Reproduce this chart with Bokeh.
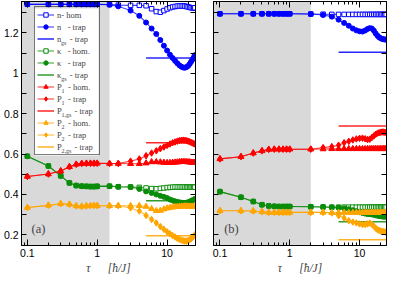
import math
from bokeh.plotting import figure
from bokeh.layouts import row
from bokeh.models import (Range1d, FixedTicker, LinearAxis, LogAxis, BoxAnnotation,
                          Legend, LegendItem, Label, CustomJSTickFormatter)
from bokeh.embed import file_html
from bokeh.resources import INLINE

# ---------------- data: panel (a) ----------------
t_a = [0.1, 0.2, 0.3, 0.4, 0.5, 0.6, 0.7, 0.8, 0.9, 1.0, 1.5, 2, 3, 4, 5, 6, 7, 8, 9, 10,
       11, 12, 13, 14, 15, 16, 17, 18, 19, 20, 21, 22, 23, 24, 25]
n_hom_a = [1.342, 1.342, 1.342, 1.342, 1.342, 1.342, 1.342, 1.342, 1.342, 1.342, 1.341, 1.338,
           1.337, 1.337, 1.335, 1.320, 1.306, 1.303, 1.311, 1.319, 1.325, 1.329, 1.331, 1.333,
           1.334, 1.334, 1.334, 1.333, 1.331, 1.329, 1.327, 1.325, 1.324, 1.324, 1.325]
n_trap_a = [1.342, 1.342, 1.342, 1.342, 1.342, 1.342, 1.342, 1.342, 1.342, 1.342, 1.340, 1.332,
            1.311, 1.285, 1.252, 1.222, 1.195, 1.165, 1.137, 1.113, 1.092, 1.076, 1.062, 1.050,
            1.040, 1.033, 1.029, 1.028, 1.031, 1.037, 1.046, 1.057, 1.068, 1.079, 1.090]
kap_hom_a = [0.589, 0.541, 0.492, 0.457, 0.444, 0.441, 0.440, 0.439, 0.439, 0.440, 0.441, 0.438,
             0.437, 0.435, 0.432, 0.429, 0.428, 0.430, 0.432, 0.434, 0.435, 0.436, 0.437, 0.437,
             0.437, 0.437, 0.437, 0.437, 0.436, 0.436, 0.436, 0.436, 0.436, 0.436, 0.436]
kap_trap_a = [0.589, 0.541, 0.492, 0.457, 0.444, 0.441, 0.440, 0.439, 0.439, 0.440, 0.441, 0.438,
              0.437, 0.427, 0.415, 0.407, 0.400, 0.393, 0.388, 0.382, 0.375, 0.370, 0.366, 0.363,
              0.361, 0.359, 0.358, 0.358, 0.359, 0.361, 0.364, 0.367, 0.371, 0.374, 0.378]
p1_hom_a = [0.489, 0.501, 0.516, 0.537, 0.549, 0.553, 0.554, 0.554, 0.554, 0.554, 0.553, 0.553,
            0.552, 0.552, 0.555, 0.561, 0.561, 0.560, 0.558, 0.557, 0.557, 0.558, 0.559, 0.560,
            0.561, 0.562, 0.562, 0.562, 0.561, 0.561, 0.560, 0.559, 0.558, 0.558, 0.558]
p1_trap_a = [0.489, 0.501, 0.516, 0.537, 0.549, 0.553, 0.554, 0.554, 0.554, 0.554, 0.553, 0.553,
             0.565, 0.576, 0.592, 0.605, 0.616, 0.627, 0.635, 0.643, 0.650, 0.656, 0.660, 0.664,
             0.667, 0.668, 0.669, 0.668, 0.666, 0.664, 0.661, 0.658, 0.655, 0.652, 0.650]
p2_hom_a = [0.335, 0.346, 0.354, 0.351, 0.343, 0.341, 0.343, 0.344, 0.345, 0.344, 0.344, 0.344,
            0.344, 0.344, 0.340, 0.329, 0.319, 0.320, 0.327, 0.332, 0.335, 0.337, 0.338, 0.339,
            0.340, 0.341, 0.341, 0.342, 0.342, 0.341, 0.341, 0.340, 0.340, 0.340, 0.339]
p2_trap_a = [0.335, 0.346, 0.354, 0.351, 0.343, 0.341, 0.343, 0.344, 0.345, 0.344, 0.344, 0.344,
             0.333, 0.318, 0.296, 0.276, 0.259, 0.241, 0.227, 0.215, 0.205, 0.196, 0.189, 0.183,
             0.178, 0.174, 0.171, 0.169, 0.169, 0.171, 0.175, 0.180, 0.186, 0.193, 0.200]
gs_t_a = [5, 25]
n_gs_a = [1.076, 1.076]
kap_gs_a = [0.369, 0.369]
p1_gs_a = [0.656, 0.656]
p2_gs_a = [0.195, 0.195]
ramp_a = 1.5

# ---------------- data: panel (b) ----------------
t_b = [0.1, 0.2, 0.3, 0.4, 0.5, 0.6, 0.7, 0.8, 0.9, 1.0, 2, 3, 4, 5, 6, 7, 8, 9, 10,
       11, 12, 13, 14, 15, 16, 17, 18, 19, 20, 21, 22, 23, 24]
n_hom_b = [1.295, 1.295, 1.295, 1.295, 1.295, 1.295, 1.295, 1.295, 1.295, 1.295, 1.294, 1.293,
           1.292, 1.292, 1.292, 1.292, 1.292, 1.292, 1.292, 1.292, 1.292, 1.292, 1.292, 1.292,
           1.292, 1.292, 1.292, 1.292, 1.292, 1.292, 1.292, 1.292, 1.292]
n_trap_b = [1.295, 1.295, 1.295, 1.295, 1.295, 1.295, 1.295, 1.295, 1.295, 1.295, 1.294, 1.289,
            1.281, 1.266, 1.250, 1.236, 1.222, 1.213, 1.208, 1.207, 1.212, 1.220, 1.224, 1.222,
            1.212, 1.198, 1.187, 1.179, 1.174, 1.171, 1.169, 1.168, 1.167]
kap_hom_b = [0.414, 0.386, 0.365, 0.349, 0.343, 0.341, 0.340, 0.340, 0.340, 0.340, 0.339, 0.338,
             0.337, 0.337, 0.337, 0.337, 0.337, 0.337, 0.337, 0.337, 0.337, 0.337, 0.337, 0.337,
             0.337, 0.337, 0.337, 0.337, 0.337, 0.337, 0.337, 0.337, 0.337]
kap_trap_b = [0.414, 0.386, 0.365, 0.349, 0.343, 0.341, 0.340, 0.340, 0.340, 0.340, 0.339, 0.338,
              0.336, 0.334, 0.331, 0.327, 0.322, 0.317, 0.312, 0.308, 0.305, 0.303, 0.302, 0.301,
              0.299, 0.297, 0.295, 0.293, 0.292, 0.291, 0.290, 0.290, 0.290]
p1_hom_b = [0.576, 0.587, 0.605, 0.616, 0.623, 0.624, 0.624, 0.624, 0.624, 0.624, 0.624, 0.625,
            0.626, 0.626, 0.626, 0.626, 0.626, 0.626, 0.626, 0.626, 0.626, 0.626, 0.626, 0.626,
            0.626, 0.626, 0.626, 0.626, 0.626, 0.626, 0.626, 0.626, 0.626]
p1_trap_b = [0.576, 0.587, 0.605, 0.616, 0.623, 0.624, 0.624, 0.624, 0.624, 0.624, 0.624, 0.632,
             0.637, 0.644, 0.656, 0.663, 0.670, 0.675, 0.678, 0.679, 0.676, 0.672, 0.674, 0.682,
             0.690, 0.698, 0.703, 0.706, 0.708, 0.709, 0.709, 0.708, 0.707]
p2_hom_b = [0.319, 0.319, 0.318, 0.314, 0.311, 0.311, 0.311, 0.311, 0.311, 0.311, 0.311, 0.311,
            0.310, 0.310, 0.310, 0.310, 0.310, 0.310, 0.310, 0.310, 0.310, 0.310, 0.310, 0.310,
            0.310, 0.310, 0.310, 0.310, 0.310, 0.310, 0.310, 0.310, 0.310]
p2_trap_b = [0.319, 0.319, 0.318, 0.314, 0.311, 0.311, 0.311, 0.311, 0.311, 0.311, 0.311, 0.311,
             0.308, 0.295, 0.283, 0.270, 0.263, 0.259, 0.254, 0.251, 0.251, 0.254, 0.258, 0.252,
             0.243, 0.233, 0.226, 0.222, 0.219, 0.217, 0.215, 0.214, 0.213]
gs_t_b = [5, 24]
n_gs_b = [1.105, 1.105]
kap_gs_b = [0.265, 0.265]
p1_gs_b = [0.739, 0.739]
p2_gs_b = [0.176, 0.176]
ramp_b = 2.0

# ---------------- ticks / labels ----------------
x_ticks = [0.1, 1, 10]
x_minor = [0.09, 0.2, 0.3, 0.4, 0.5, 0.6, 0.7, 0.8, 0.9, 2, 3, 4, 5, 6, 7, 8, 9, 20]
y_ticks = [0.2, 0.4, 0.6, 0.8, 1.0, 1.2]
y_minor = [0.3, 0.5, 0.7, 0.9, 1.1, 1.3]
x_label = "\u03c4\u2003\u2002[\u0127/J]"

EN = "\u2002"
# (legend text, subscript, symbol width in px)
legend_rows = [("n- hom", "", 4.3),
               ("n" + EN + " - trap", "", 4.3),
               ("n" + EN + EN + "- trap", "gs", 4.3),
               ("\u03ba" + EN + " - hom.", "", 4.5),
               ("\u03ba" + EN + " - trap", "", 4.5),
               ("\u03ba" + EN + EN + "- trap", "gs", 4.5),
               ("P" + EN + " - hom.", "1", 4.8),
               ("P" + EN + " - trap", "1", 4.8),
               ("P" + EN + EN + EN + "- trap", "1,gs", 4.8),
               ("P" + EN + " - hom.", "2", 4.8),
               ("P" + EN + " - trap", "2", 4.8),
               ("P" + EN + EN + EN + "- trap", "2,gs", 4.8)]

BLUE, GREEN, RED, ORANGE = "#0000ff", "#0a8c0a", "#ff0000", "#ffa500"
SERIF, SANS = "Liberation Serif", "Liberation Sans"
FH = 244
Y0, Y1 = 0.147, 1.356


def style_axis(ax, show, major_in, minor_in):
    ax.axis_line_color = "black"
    ax.major_tick_in = major_in
    ax.major_tick_out = 0
    ax.minor_tick_in = minor_in
    ax.minor_tick_out = 0
    ax.major_tick_line_color = "black"
    ax.minor_tick_line_color = "black"
    ax.major_label_text_font = SANS
    ax.major_label_text_color = "black"
    if show:
        ax.formatter = CustomJSTickFormatter(code="return String(Math.round(tick*100)/100)")
        ax.major_label_text_font_size = "10.5px"
        ax.major_label_standoff = 3
    else:
        ax.formatter = CustomJSTickFormatter(code="return ''")
        ax.major_label_text_font_size = "1px"
        ax.major_label_standoff = 0


def make_panel(t, series, gs_t, gs_series, x0, x_end, ramp, tag, first, fw):
    p = figure(x_axis_type="log", x_range=Range1d(x0, x_end), y_range=Range1d(Y0, Y1),
               frame_width=fw, frame_height=FH, output_backend="svg", toolbar_location=None,
               min_border_left=20 if first else 17, min_border_right=1 if first else 2,
               min_border_top=1, min_border_bottom=0)
    p.xgrid.visible = False
    p.ygrid.visible = False
    p.outline_line_color = "black"
    p.background_fill_color = "white"
    p.border_fill_color = "white"

    xt = FixedTicker(ticks=x_ticks, minor_ticks=x_minor)
    yt = FixedTicker(ticks=y_ticks, minor_ticks=y_minor)
    bx = p.xaxis[0]
    bx.ticker = xt
    style_axis(bx, True, 6, 3)
    bx.axis_label = x_label
    bx.axis_label_text_font = SERIF
    bx.axis_label_text_font_style = "italic"
    bx.axis_label_text_font_size = "11.5px"
    bx.axis_label_standoff = 2
    ly = p.yaxis[0]
    ly.ticker = yt
    style_axis(ly, first, 5, 5)
    top = LogAxis(ticker=xt)
    style_axis(top, False, 6, 3)
    p.add_layout(top, "above")
    ra = LinearAxis(ticker=yt)
    style_axis(ra, False, 5, 5)
    p.add_layout(ra, "right")

    p.add_layout(BoxAnnotation(right=ramp, fill_color="#d9d9d9", fill_alpha=1.0,
                               line_color=None, level="underlay"))

    items = []
    specs = [(series[0], BLUE, "square", 4.5, False), (series[1], BLUE, "circle", 5, True),
             (series[2], GREEN, "square", 4.5, False), (series[3], GREEN, "circle", 5, True),
             (series[4], RED, "triangle", 6, True), (series[5], RED, "diamond", 6.5, True),
             (series[6], ORANGE, "triangle", 6, True), (series[7], ORANGE, "diamond", 6.5, True)]
    gs_colors = [BLUE, GREEN, RED, ORANGE]
    for k in range(4):
        for j in range(2):
            vals, col, mk, sz, filled = specs[2 * k + j]
            lr = p.line(t, vals, line_color=col, line_width=1.1, line_alpha=0.75)
            sr = p.scatter(t, vals, marker=mk, size=sz, line_color=col, line_width=1,
                           fill_color=col if filled else "white")
            items.append([lr, sr])
        gr = p.line(gs_t, gs_series[k], line_color=gs_colors[k], line_width=1.5, line_alpha=0.85)
        items.append([gr])

    if first:
        pad, ih, sp, lx, top_off, gw, ls, lw = 2, 11, 1, 13, 7, 17, 3, 40
        n = len(items)
        leg_h = 2 * pad + n * ih + (n - 1) * sp
        leg_w = 2 * pad + gw + ls + lw
        # pixel -> data conversion for the legend backdrop and subscripts
        px_per_dec = fw / math.log10(x_end / x0)
        y_per_px = (Y1 - Y0) / FH
        px2x = lambda px: x0 * 10 ** (px / px_per_dec)
        px2y = lambda py: Y1 - py * y_per_px
        # white backdrop drawn under the (transparent) legend so subscripts stay visible
        p.add_layout(BoxAnnotation(left=px2x(lx), right=px2x(lx + leg_w), top=px2y(top_off),
                                   bottom=px2y(top_off + leg_h), fill_color="white",
                                   fill_alpha=1.0, line_color=None, level="underlay"))
        leg_items = [LegendItem(label=legend_rows[i][0], renderers=items[i]) for i in range(n)]
        leg = Legend(items=leg_items, location=(lx, FH - top_off - leg_h), padding=pad, spacing=sp,
                     glyph_width=gw, glyph_height=ih, label_height=ih, label_width=lw,
                     label_standoff=ls, label_text_font=SERIF, label_text_font_size="8.5px",
                     label_text_baseline="middle", margin=0,
                     border_line_color="black", border_line_width=1,
                     background_fill_alpha=0.0)
        p.add_layout(leg)
        x_text = lx + pad + gw + ls
        for i, (txt, sub, sw) in enumerate(legend_rows):
            if not sub:
                continue
            dy = top_off + pad + i * (ih + sp) + ih / 2 + 3
            p.add_layout(Label(x=px2x(x_text + sw + 0.3), y=px2y(dy), text=sub, text_font=SERIF,
                               text_font_size="6px", text_baseline="middle"))

    p.add_layout(Label(x=0.115, y=0.228, text=tag, text_font=SERIF, text_font_size="12.5px",
                       text_baseline="middle"))
    return p


pa = make_panel(t_a, [n_hom_a, n_trap_a, kap_hom_a, kap_trap_a, p1_hom_a, p1_trap_a, p2_hom_a, p2_trap_a],
                gs_t_a, [n_gs_a, kap_gs_a, p1_gs_a, p2_gs_a], 0.0824, 25.5, ramp_a, "(a)", True, 174)
pb = make_panel(t_b, [n_hom_b, n_trap_b, kap_hom_b, kap_trap_b, p1_hom_b, p1_trap_b, p2_hom_b, p2_trap_b],
                gs_t_b, [n_gs_b, kap_gs_b, p1_gs_b, p2_gs_b], 0.0808, 24.3, ramp_b, "(b)", False, 173)

layout = row(pa, pb)
open("out.html", "w").write(file_html(layout, INLINE))
